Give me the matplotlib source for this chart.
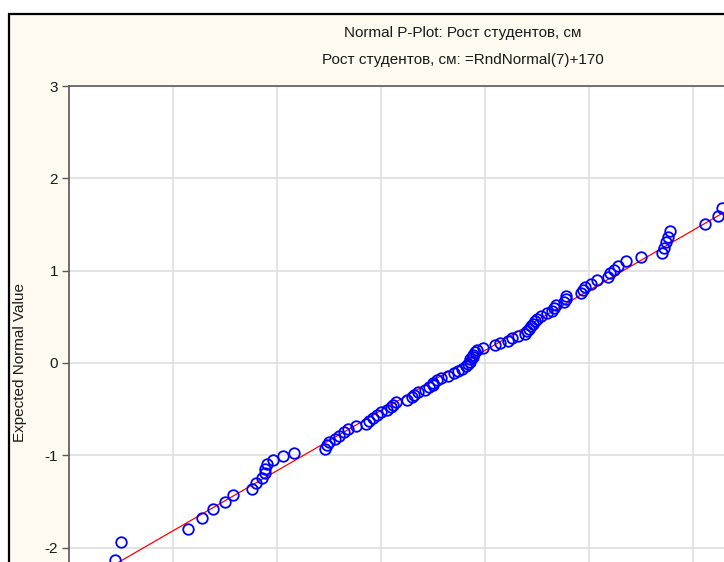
import numpy as np
import matplotlib.pyplot as plt
from matplotlib.patches import Rectangle
from statistics import NormalDist

plt.rcParams['font.family'] = ['Liberation Sans', 'DejaVu Sans']

# heights of the students, cm (sorted)
heights = [
    151.5, 152.2, 152.5, 155.7, 156.4, 156.9, 157.5, 157.9, 158.8, 159.0,
    159.3, 159.4, 159.4, 159.5, 159.8, 160.3, 160.8, 162.3, 162.4, 162.5,
    162.8, 163.0, 163.2, 163.4, 163.8, 164.3, 164.4, 164.6, 164.8, 165.0,
    165.3, 165.5, 165.6, 165.7, 166.25, 166.5, 166.6, 166.8, 167.1, 167.3,
    167.5, 167.5, 167.7, 167.9, 168.2, 168.5, 168.7, 168.9, 169.1, 169.2,
    169.3, 169.3, 169.4, 169.4, 169.5, 169.6, 169.9, 170.5, 170.7, 171.1,
    171.3, 171.6, 171.9, 172.0, 172.1, 172.2, 172.3, 172.4, 172.5, 172.7,
    173.0, 173.2, 173.3, 173.4, 173.8, 173.9, 173.9, 174.6, 174.7, 174.8,
    175.1, 175.4, 175.9, 176.0, 176.2, 176.4, 176.8, 177.5, 178.5, 178.6,
    178.7, 178.8, 178.9, 180.6, 181.2, 181.4, 183.5, 184.5, 186.0, 189.0,
]
y_ticks = [-2, -1, 0, 1, 2, 3]
x_ticks = [150, 155, 160, 165, 170, 175, 180, 185]

title1 = "Normal P-Plot: Рост студентов, см"
title2 = "Рост студентов, см: =RndNormal(7)+170"
ylabel = "Expected Normal Value"

# expected normal values from ranks
x = np.sort(np.array(heights))
n = len(x)
ranks = np.arange(1, n + 1)
nd = NormalDist()
z = np.array([nd.inv_cdf((r - 0.375) / (n + 0.25)) for r in ranks])

slope, intercept = np.polyfit(x, z, 1)

W, H = 724, 562
fig = plt.figure(figsize=(W / 100, H / 100), dpi=100)
fig.patch.set_facecolor('white')

# window frame
frame = Rectangle((9 / W, -0.2), 1.5, (H - 14) / H + 0.2,
                  transform=fig.transFigure, facecolor='#fffaf0',
                  edgecolor='black', linewidth=1.6, zorder=-10)
fig.patches.append(frame)

ax_left, ax_top = 69, 86
ax_w = (x_ticks[-1] - x_ticks[0]) * 20.8
ax_h = 6 * 92.3
ax = fig.add_axes([ax_left / W, (H - ax_top - ax_h) / H, ax_w / W, ax_h / H])
ax.set_zorder(1)
ax.set_facecolor('white')

ax.set_xlim(x_ticks[0], x_ticks[-1])
ax.set_ylim(-3, 3)
ax.set_xticks(x_ticks)
ax.set_yticks(y_ticks)
ax.set_yticklabels([str(t) for t in y_ticks])
ax.grid(True, color='#dedede', linewidth=1.2)
ax.set_axisbelow(True)

for s in ['left', 'top', 'right', 'bottom']:
    ax.spines[s].set_color('#5a5a5a')
    ax.spines[s].set_linewidth(1.2)
ax.tick_params(axis='y', direction='out', length=5, width=1, color='#5a5a5a',
               labelsize=11, pad=3, labelcolor='#1a1a1a')
ax.tick_params(axis='x', length=0, labelbottom=False)

xl = np.array(ax.get_xlim())
ax.plot(xl, slope * xl + intercept, color='#ff0000', linewidth=0.9, zorder=2)
ax.plot(x, z, linestyle='none', marker='o', markersize=7.6,
        markerfacecolor='none', markeredgecolor='#0000ff',
        markeredgewidth=1.3, zorder=3)

fig.text(463 / W, 1 - 33 / H, title1, ha='center', va='center', fontsize=11,
         color='#1a1a1a')
fig.text(463 / W, 1 - 60 / H, title2, ha='center', va='center', fontsize=11,
         color='#1a1a1a')
fig.text(20 / W, 1 - 363 / H, ylabel, ha='center', va='center', rotation=90,
         fontsize=11, color='#1a1a1a')

fig.savefig('out.png', dpi=100)
